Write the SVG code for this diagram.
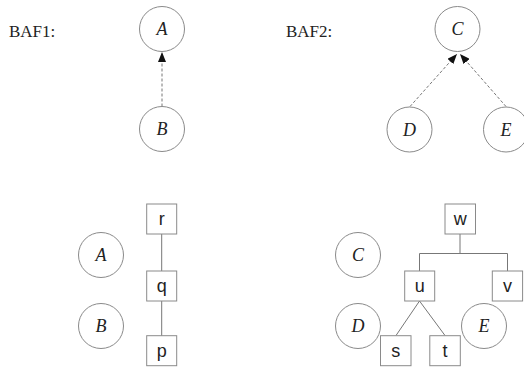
<svg xmlns="http://www.w3.org/2000/svg" width="524" height="368" viewBox="0 0 524 368">
<style>
.c{fill:#fff;stroke:#8a8a8a;stroke-width:1}
.b{fill:#fff;stroke:#8a8a8a;stroke-width:1}
.ci{font-family:"Liberation Serif",serif;font-style:italic;font-size:18px;fill:#222;text-anchor:middle}
.bx{font-family:"Liberation Sans",sans-serif;font-size:18px;fill:#222;text-anchor:middle}
.t{font-family:"Liberation Serif",serif;font-size:17px;fill:#222}
.d{stroke:#777;stroke-width:1;stroke-dasharray:3,2;fill:none}
.s{stroke:#777;stroke-width:1;fill:none}
</style>
<defs>
<marker id="ah" viewBox="0 0 10 8" refX="10" refY="4" markerWidth="10" markerHeight="8" markerUnits="userSpaceOnUse" orient="auto">
<path d="M0,0 L10,4 L0,8 Z" fill="#111"/>
</marker>
</defs>
<text class="t" x="9" y="37">BAF1:</text>
<text class="t" x="286" y="37">BAF2:</text>
<g id="connectors">
<line class="d" x1="162" y1="106.5" x2="162" y2="52" marker-end="url(#ah)"/>
<line class="d" x1="410" y1="106.5" x2="457" y2="54" marker-end="url(#ah)"/>
<line class="d" x1="506" y1="106.5" x2="460" y2="54" marker-end="url(#ah)"/>
<line class="s" x1="161.7" y1="234" x2="161.7" y2="271"/>
<line class="s" x1="161.7" y1="301" x2="161.7" y2="336"/>
<polyline class="s" points="460,234 460,253.5"/>
<polyline class="s" points="419.5,271 419.5,253.5 507.5,253.5 507.5,271"/>
<line class="s" x1="419.5" y1="301" x2="396" y2="335.5"/>
<line class="s" x1="419.5" y1="301" x2="445" y2="335.5"/>
</g>
<g id="A1"><circle class="c" cx="162" cy="29" r="22.5"/><text class="ci" x="162" y="35">A</text></g>
<g id="B1"><circle class="c" cx="162" cy="129" r="22.5"/><text class="ci" x="162" y="135">B</text></g>
<g id="C1"><circle class="c" cx="457.5" cy="29" r="22.5"/><text class="ci" x="457.5" y="35">C</text></g>
<g id="D1"><circle class="c" cx="409.5" cy="129.5" r="22.5"/><text class="ci" x="409.5" y="135.5">D</text></g>
<g id="E1"><circle class="c" cx="506" cy="129.5" r="22.5"/><text class="ci" x="506" y="135.5">E</text></g>
<g id="A2"><circle class="c" cx="101" cy="255" r="22.5"/><text class="ci" x="101" y="261">A</text></g>
<g id="B2"><circle class="c" cx="101" cy="326" r="22.5"/><text class="ci" x="101" y="332">B</text></g>
<g id="C2"><circle class="c" cx="358" cy="255" r="22.5"/><text class="ci" x="358" y="261">C</text></g>
<g id="D2"><circle class="c" cx="358" cy="326" r="22.5"/><text class="ci" x="358" y="332">D</text></g>
<g id="E2"><circle class="c" cx="484" cy="326" r="22.5"/><text class="ci" x="484" y="332">E</text></g>
<g id="r"><rect class="b" x="146.7" y="204" width="30" height="30"/><text class="bx" x="161.7" y="225">r</text></g>
<g id="q"><rect class="b" x="146.7" y="271" width="30" height="30"/><text class="bx" x="161.7" y="292">q</text></g>
<g id="p"><rect class="b" x="146.7" y="335.7" width="30" height="30"/><text class="bx" x="161.7" y="356.7">p</text></g>
<g id="w"><rect class="b" x="445" y="204" width="30.5" height="30"/><text class="bx" x="460.2" y="225">w</text></g>
<g id="u"><rect class="b" x="404.7" y="271" width="30" height="30"/><text class="bx" x="419.7" y="292">u</text></g>
<g id="v"><rect class="b" x="492.3" y="271" width="30.3" height="30"/><text class="bx" x="507.5" y="292">v</text></g>
<g id="s"><rect class="b" x="380.5" y="335.7" width="30.5" height="30"/><text class="bx" x="395.7" y="356.7">s</text></g>
<g id="t"><rect class="b" x="429.8" y="335.7" width="30.5" height="30"/><text class="bx" x="445" y="356.7">t</text></g>
</svg>
